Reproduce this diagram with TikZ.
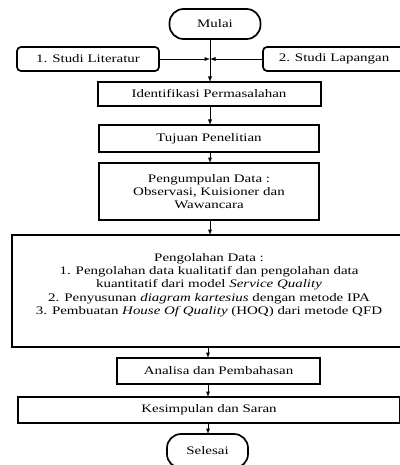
\documentclass[tikz,border=0pt]{standalone}
\usepackage{fontspec}
\setmainfont{Liberation Serif}[FakeStretch=1.3]
\usetikzlibrary{shapes,arrows,positioning}

\begin{document}
\begin{tikzpicture}[
    x=1pt, y=-1pt,
    node distance=11pt,
    font=\fontsize{11.5}{13.2}\selectfont,
    prosesbox/.style={rectangle, draw, line width=2pt, align=center, outer sep=0pt, inner sep=2pt},
    terminal/.style={rectangle, rounded corners=14pt, draw, line width=1.7pt, align=center, outer sep=0pt},
    studibox/.style={rectangle, rounded corners=4pt, draw, line width=1.7pt, minimum width=142pt, minimum height=24pt, outer sep=0pt},
    arr/.style={-latex, line width=0.9pt}
]
\useasboundingbox (0,0) rectangle (399,465);

\node[terminal, minimum width=91pt, minimum height=30pt] (mulai) at (215,24) {Mulai};
\node[studibox] (lit) at (88,59) {1. Studi Literatur};
\node[studibox] (lap) at (334,59) {2. Studi Lapangan};
\coordinate (mid) at (210,59);
\coordinate (bawah) at (208,0);

\node[prosesbox, minimum width=223pt, minimum height=24pt] (ident) [below=43pt of mulai, xshift=-6pt] {Identifikasi Permasalahan};
\node[prosesbox, minimum width=220pt, minimum height=27pt] (tujuan) [below=19pt of ident] {Tujuan Penelitian};
\node[prosesbox, minimum width=220pt, minimum height=57pt] (kumpul) [below=11pt of tujuan] {Pengumpulan Data :\\Observasi, Kuisioner dan\\Wawancara};
\node[prosesbox, minimum width=394pt, minimum height=112pt] (olah) [below=15pt of kumpul] {Pengolahan Data :\\
    1. Pengolahan data kualitatif dan pengolahan data\\
    kuantitatif dari model \textit{Service Quality}\\
    2. Penyusunan \textit{diagram kartesius} dengan metode IPA\\
    3. Pembuatan \textit{House Of Quality} (HOQ) dari metode QFD\\[1pt]~};
\node[prosesbox, minimum width=203pt, minimum height=26pt] (analisa) [below=11pt of olah, xshift=9.5pt] {Analisa dan Pembahasan};
\node[prosesbox, minimum width=382pt, minimum height=26pt] (simpul) [below=13pt of analisa, xshift=-9.5pt] {Kesimpulan dan Saran};
\node[terminal, minimum width=81pt, minimum height=34pt] (selesai) [below=11pt of simpul, xshift=-1.5pt] {Selesai};

\draw[arr] (mulai.south -| mid) -- (ident.north -| mid);
\draw[arr] (lit) -- (mid);
\draw[arr] (lap) -- (mid);
\draw[arr] (ident.south -| mid) -- (tujuan.north -| mid);
\draw[arr] (tujuan.south -| mid) -- (kumpul.north -| mid);
\draw[arr] (kumpul.south -| mid) -- (olah.north -| mid);
\draw[arr] (olah.south -| bawah) -- (analisa.north -| bawah);
\draw[arr] (analisa.south -| bawah) -- (simpul.north -| bawah);
\draw[arr] (simpul.south -| bawah) -- (selesai.north -| bawah);
\end{tikzpicture}
\end{document}
